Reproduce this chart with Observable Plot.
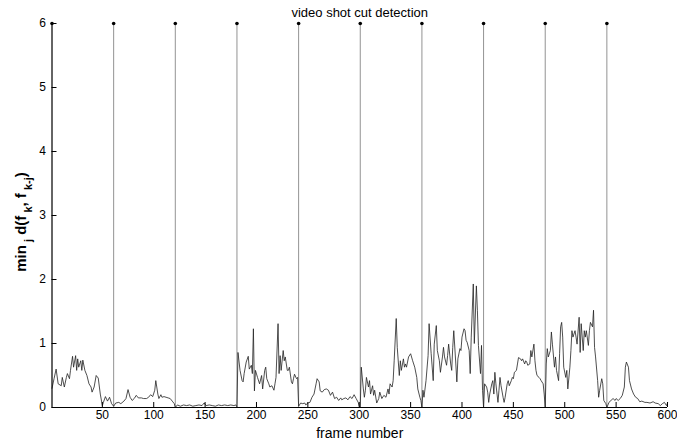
<!DOCTYPE html>
<html><head><meta charset="utf-8">
<script src="https://cdn.jsdelivr.net/npm/d3@7"></script>
<script src="https://cdn.jsdelivr.net/npm/@observablehq/plot@0.6"></script>
<style>body{margin:0;background:#fff} svg{display:block}</style>
</head><body><div id="chart"></div>
<script>
// frame numbers and min_j d(f_k, f_{k-j}) values
const frames = [1,3,5,7,10,11,13,15,16,18,19,21,22,24,25,26,27,29,30,31,33,35,37,39,40,42,44,46,48,50,51,53,55,57,59,61,63,66,68,71,73,75,77,79,81,83,85,88,90,93,95,97,99,101,102,104,105,107,108,110,112,114,116,118,120,121,
123,126,129,132,135,138,141,144,147,149,151,154,157,160,163,166,169,172,175,178,180,181,
182,184,186,187,188,190,192,193,195,196,197,198,199,201,203,205,206,208,209,210,212,213,215,217,218,219,221,222,223,224,226,227,228,230,231,232,234,235,236,237,239,240,241,
243,245,247,248,250,252,254,256,258,259,261,262,264,266,268,270,272,274,276,278,280,282,283,285,287,289,291,293,295,297,299,300,301,
302,304,305,306,307,309,310,311,313,314,315,317,319,320,322,324,326,328,329,330,332,333,334,336,337,339,340,341,343,344,345,346,348,350,352,354,356,357,359,360,361,
362,363,365,367,368,370,372,373,375,376,378,379,381,382,383,385,386,387,389,390,391,392,394,395,396,398,399,400,402,403,404,405,407,408,409,411,412,414,415,416,418,419,420,421,
422,424,425,426,427,429,430,431,432,433,435,436,437,438,440,441,442,444,445,446,448,449,450,451,453,454,455,457,458,459,461,462,463,464,466,467,468,470,471,472,473,475,476,477,479,480,481,
482,483,484,486,487,488,490,491,492,494,495,496,497,498,499,501,502,503,505,506,507,508,510,511,512,514,515,516,518,519,520,521,523,524,525,527,528,529,530,532,533,534,536,537,538,540,541,
543,545,547,549,550,552,554,556,558,559,560,562,563,565,567,569,571,573,575,578,580,583,586,588,591,593,595,597,599,600];
const values = [0.30,0.45,0.60,0.37,0.34,0.47,0.32,0.47,0.53,0.45,0.58,0.80,0.63,0.81,0.58,0.76,0.63,0.73,0.58,0.74,0.58,0.50,0.37,0.32,0.24,0.32,0.50,0.46,0.21,0.03,0.08,0.17,0.10,0.16,0.06,0.02,0.07,0.08,0.06,0.10,0.14,0.28,0.16,0.11,0.14,0.19,0.15,0.15,0.14,0.14,0.16,0.20,0.17,0.27,0.42,0.21,0.14,0.20,0.16,0.17,0.16,0.15,0.14,0.10,0.06,0.00,
0.04,0.02,0.04,0.03,0.04,0.02,0.03,0.04,0.03,0.07,0.03,0.04,0.03,0.02,0.04,0.03,0.04,0.03,0.04,0.03,0.04,0.01,
0.86,0.58,0.42,0.40,0.53,0.71,0.80,0.60,0.66,0.53,1.23,0.26,0.58,0.47,0.37,0.50,0.29,0.58,0.63,0.45,0.37,0.32,0.34,0.27,0.37,0.47,1.31,0.53,0.81,0.58,0.89,0.73,0.79,0.58,0.58,0.63,0.40,0.37,0.45,0.52,0.45,0.47,0.02,
0.07,0.06,0.07,0.04,0.07,0.08,0.16,0.21,0.37,0.45,0.40,0.26,0.24,0.28,0.29,0.27,0.19,0.24,0.14,0.16,0.11,0.15,0.12,0.14,0.15,0.12,0.17,0.14,0.20,0.14,0.08,0.02,0.00,
0.63,0.29,0.16,0.27,0.47,0.32,0.42,0.21,0.34,0.19,0.27,0.07,0.14,0.24,0.14,0.19,0.16,0.29,0.21,0.37,0.32,0.42,0.73,1.39,0.94,0.50,0.73,0.58,0.76,0.63,0.68,0.63,0.79,0.84,0.73,0.63,0.47,0.29,0.16,0.11,0.00,
0.27,0.16,0.42,0.81,1.31,0.84,0.42,0.99,1.28,0.89,0.73,0.55,0.79,0.94,0.79,0.66,0.81,0.99,0.68,0.58,0.94,1.20,0.68,0.40,0.76,0.92,0.89,1.10,1.23,1.20,1.05,1.02,0.89,0.53,1.10,1.93,1.00,1.90,1.52,0.97,0.53,0.97,0.27,0.00,
0.37,0.32,0.24,0.08,0.21,0.37,0.42,0.21,0.55,0.37,0.08,0.27,0.47,0.34,0.16,0.08,0.16,0.37,0.42,0.34,0.42,0.47,0.45,0.55,0.58,0.68,0.78,0.76,0.73,0.76,0.68,0.73,0.71,0.66,0.68,0.89,0.79,0.99,0.73,0.58,0.50,0.47,0.45,0.42,0.37,0.21,0.00,
0.68,0.92,0.79,0.89,1.18,0.99,0.63,0.79,0.58,0.42,0.84,1.26,1.33,1.10,0.63,0.47,0.58,0.29,0.63,0.89,1.20,1.10,1.20,1.10,0.99,1.41,0.86,1.31,0.89,1.20,1.10,1.20,0.97,1.20,1.33,1.26,1.52,0.94,0.79,0.42,0.16,0.27,0.45,0.37,0.11,0.06,0.00,
0.08,0.11,0.14,0.11,0.14,0.11,0.14,0.19,0.32,0.63,0.71,0.63,0.42,0.29,0.21,0.16,0.14,0.09,0.10,0.08,0.08,0.07,0.09,0.07,0.06,0.03,0.06,0.08,0.03,0.07];
// detected shot cuts (stems)
const cutFrames = [1,61,121,181,241,301,361,421,481,541];
const cutValues = [6,6,6,6,6,6,6,6,6,6];
const xTicks = [50,100,150,200,250,300,350,400,450,500,550,600];
const yTicks = [0,1,2,3,4,5,6];
const xDomain = [1,600];
const yDomain = [0,6];
const titleText = "video shot cut detection";
const xLabelText = "frame number";

const series = frames.map((f,i)=>({frame:f, value:values[i]}));
const cuts = cutFrames.map((f,i)=>({frame:f, value:cutValues[i]}));

const plot = Plot.plot({
  width: 677, height: 440,
  marginLeft: 51.5, marginRight: 10, marginTop: 23, marginBottom: 33,
  style: {fontFamily: "'Liberation Sans', Arial, sans-serif", fontSize: "12px", background: "#fff", color: "#000", overflow: "visible"},
  x: {domain: xDomain},
  y: {domain: yDomain},
  marks: [
    Plot.ruleX(cuts, {x: "frame", y1: 0, y2: "value", stroke: "#777", strokeWidth: 0.8}),
    Plot.line(series, {x: "frame", y: "value", stroke: "#222", strokeWidth: 0.8}),
    Plot.dot(cuts, {x: "frame", y: "value", r: 1.8, fill: "#000", stroke: null}),
    Plot.ruleY([yDomain[0]], {stroke: "#000", strokeWidth: 1}),
    Plot.ruleX([xDomain[0]], {stroke: "#000", strokeWidth: 1}),
    Plot.axisX({ticks: xTicks, tickSize: -5, tickPadding: 8, tickFormat: d => String(d), label: null, fontSize: 12}),
    Plot.axisY({ticks: yTicks, tickSize: -5, tickPadding: 11, tickFormat: d => String(d), label: null, fontSize: 12}),
    Plot.text([titleText], {frameAnchor: "top", lineAnchor: "middle", dy: -11, fontSize: 13}),
    Plot.text([xLabelText], {frameAnchor: "bottom", lineAnchor: "middle", dy: 26, fontSize: 14})
  ]
});
document.getElementById("chart").append(plot);

// y-axis label with subscripts
const svg = d3.select(plot);
const t = svg.append("text")
  .attr("transform", "translate(26,222) rotate(-90)")
  .attr("text-anchor", "middle")
  .attr("font-size", 15)
  .attr("font-weight", "bold")
  .attr("fill", "#000");
const parts = [["min",0],[" j",1],[" d(f",0],[" k",1],[", f",0],[" k-j",1],[")",0]];
let shifted = false;
parts.forEach(([s,sub])=>{
  const ts = t.append("tspan").text(s).attr("xml:space", "preserve");
  if (sub) { ts.attr("font-size", 11); if(!shifted){ts.attr("dy", 6); shifted = true;} }
  else if (shifted) { ts.attr("dy", -6); shifted = false; }
});
t.style("white-space", "pre");
</script></body></html>
